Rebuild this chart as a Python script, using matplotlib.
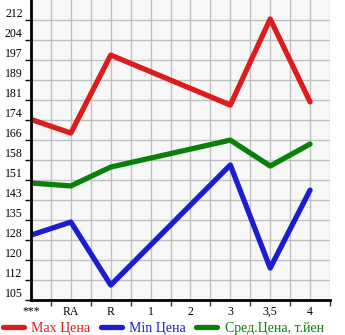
"""Max / Min / average price lines by grade."""

import matplotlib.pyplot as plt
import numpy as np

categories = ["***", "RA", "R", "1", "2", "3", "3,5", "4"]
# values only at the grades that have data; 1 and 2 are empty
max_price = [174.0, 168.8, 198.6, None, None, 179.5, 212.4, 180.7]
min_price = [129.8, 134.8, 110.7, None, None, 156.6, 117.2, 147.0]
avg_price = [149.7, 148.6, 155.8, None, None, 166.1, 156.2, 164.6]
ytick_labels = ["105", "112", "120", "128", "135", "143", "151", "158",
                "166", "174", "181", "189", "197", "204", "212"]
series_names = ["Max Цена", "Min Цена", "Сред.Цена, т.йен"]
colors = ["#dd1c1c", "#1c1cd0", "#0a800a"]

y0, y1 = 105.0, 212.0
step = (y1 - y0) / (len(ytick_labels) - 1)

plt.rcParams["font.family"] = ["Liberation Serif", "DejaVu Serif"]

fig = plt.figure(figsize=(3.45, 3.35), dpi=100)
ax = fig.add_axes([31 / 345, 35 / 335, 299 / 345, 300 / 335])
ax.set_facecolor("#f7f7f7")

x = np.arange(len(categories))
handles = []
for vals, color, name in zip([max_price, min_price, avg_price], colors, series_names):
    pts = [(xi, v) for xi, v in zip(x, vals) if v is not None]
    xs, ys = zip(*pts)
    (h,) = ax.plot(xs, ys, color=color, lw=3.8, solid_capstyle="round",
                   solid_joinstyle="round", label=name, zorder=3)
    handles.append(h)

ax.set_xlim(0, 7 + 19 / 40)
ax.set_ylim(y0, y0 + 15 * step)

yticks = y0 + step * np.arange(len(ytick_labels))
ax.set_yticks(yticks)
ax.set_yticklabels(ytick_labels)
ax.set_xticks(x)
ax.set_xticklabels(categories)
ax.set_xticks(x + 0.5, minor=True)
ax.tick_params(axis="x", which="major", length=0, pad=4, labelsize=8.5)
ax.tick_params(axis="x", which="minor", length=4, width=1, color="#333333")
ax.tick_params(axis="y", length=4, width=1, pad=2, labelsize=8.5)
for lab in ax.get_yticklabels():
    lab.set_verticalalignment("bottom")

ax.grid(True, which="both", color="#c0c0c0", lw=1)
ax.set_axisbelow(True)
for side in ["top", "right"]:
    ax.spines[side].set_visible(False)
for side in ["left", "bottom"]:
    ax.spines[side].set_linewidth(2)
    ax.spines[side].set_zorder(4)

leg = fig.legend(handles=handles, loc="lower left", bbox_to_anchor=(-0.02, -0.03),
                 ncol=3, frameon=False, fontsize=10.0, handlelength=1.5,
                 handletextpad=0.55, columnspacing=0.75, borderpad=0.2)
for text, color in zip(leg.get_texts(), colors):
    text.set_color(color)

fig.savefig("out.png", dpi=100)
